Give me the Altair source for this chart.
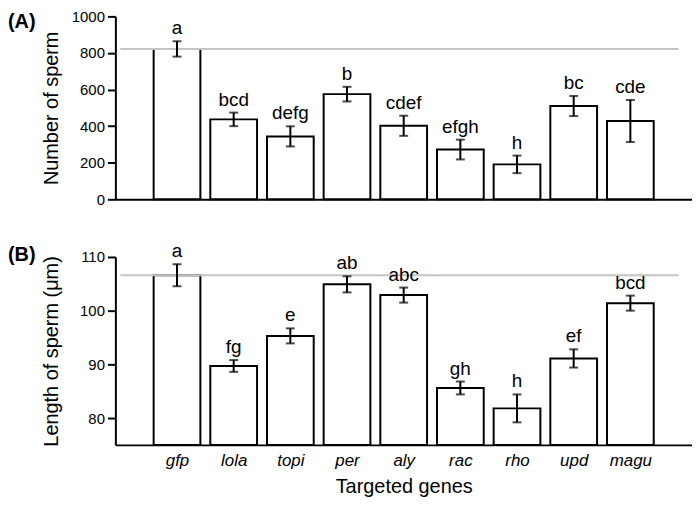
import altair as alt
import pandas as pd

FONT = "Liberation Sans"

genes = ["gfp", "lola", "topi", "per", "aly", "rac", "rho", "upd", "magu"]

count_mean = [822, 437, 344, 575, 402, 272, 191, 510, 428]
count_se = [42, 37, 55, 40, 55, 54, 48, 55, 115]
count_letters = ["a", "bcd", "defg", "b", "cdef", "efgh", "h", "bc", "cde"]

length_mean = [106.6, 89.7, 95.3, 104.9, 102.9, 85.6, 81.8, 91.1, 101.4]
length_se = [2.05, 1.1, 1.4, 1.5, 1.4, 1.2, 2.6, 1.7, 1.4]
length_letters = ["a", "fg", "e", "ab", "abc", "gh", "h", "ef", "bcd"]

count_ticks = [0, 200, 400, 600, 800, 1000]
length_ticks = [80, 90, 100, 110]

W = 580

label_expr = "[" + ",".join("'%s'" % g for g in genes) + "][datum.value - 1]"


def panel(mean, se, letters, ydomain, yticks, ytitle, tag, tag_y, show_x, height):
    df = pd.DataFrame({
        "pos": list(range(1, len(genes) + 1)),
        "gene": genes,
        "mean": mean,
        "lo": [m - s for m, s in zip(mean, se)],
        "hi": [m + s for m, s in zip(mean, se)],
        "letter": letters,
    })
    if show_x:
        xaxis = alt.Axis(values=list(range(1, len(genes) + 1)), labelExpr=label_expr,
                         ticks=False, grid=False, domainWidth=2, domainColor="black",
                         labelFont=FONT, labelFontSize=17, labelFontStyle="italic",
                         labelColor="black", labelPadding=8, labelFlush=False,
                         labelOverlap=False, title="Targeted genes", titleFont=FONT,
                         titleFontSize=20, titleFontWeight="normal", titleColor="black",
                         titlePadding=8)
    else:
        xaxis = alt.Axis(labels=False, ticks=False, grid=False, title=None,
                         domainWidth=2, domainColor="black")
    xs = alt.Scale(domain=[0, 10], nice=False, zero=False)
    ys = alt.Scale(domain=ydomain, nice=False, zero=False)
    yaxis = alt.Axis(values=yticks, format="d", grid=False, domainWidth=2, domainColor="black",
                     tickWidth=2, tickSize=8, tickColor="black", labelFont=FONT,
                     labelFontSize=15, labelColor="black", labelPadding=3,
                     labelOverlap=False, labelFlush=False,
                     title=ytitle, titleFont=FONT, titleFontSize=20,
                     titleFontWeight="normal", titleColor="black", titleX=-54)

    def X():
        return alt.X("pos:Q", scale=xs, axis=xaxis)

    def Y(field):
        return alt.Y(field, scale=ys, axis=yaxis)

    base = alt.Chart(df)
    bars = base.mark_bar(size=47, fill="white", stroke="black", strokeWidth=2).encode(
        x=X(), y=Y("mean:Q"), y2=alt.datum(ydomain[0]),
    )
    ref = alt.Chart(pd.DataFrame({"v": [mean[0]]})).mark_rule(
        color="#c4c4c4", strokeWidth=2).encode(
        x=alt.datum(0), x2=alt.datum(9.85), y=Y("v:Q"))
    err = base.mark_rule(color="black", strokeWidth=2).encode(
        x=X(), y=Y("lo:Q"), y2="hi:Q")
    cap_lo = base.mark_tick(orient="horizontal", size=9, thickness=2, color="black").encode(
        x=X(), y=Y("lo:Q"))
    cap_hi = base.mark_tick(orient="horizontal", size=9, thickness=2, color="black").encode(
        x=X(), y=Y("hi:Q"))
    txt = base.mark_text(baseline="bottom", dy=-3, fontSize=19, font=FONT, color="black").encode(
        x=X(), y=Y("hi:Q"), text="letter:N")
    tagm = alt.Chart(pd.DataFrame({"t": [tag]})).mark_text(
        align="left", baseline="middle", fontSize=20, fontWeight="bold", font=FONT,
        color="black").encode(x=alt.value(-108), y=alt.value(tag_y), text="t:N")
    return alt.layer(bars, ref, err, cap_lo, cap_hi, txt, tagm).properties(width=W, height=height)


pA = panel(count_mean, count_se, count_letters, [0, 1000], count_ticks,
           "Number of sperm", "(A)", 6, False, 184)
pB = panel(length_mean, length_se, length_letters, [75, 110], length_ticks,
           "Length of sperm (μm)", "(B)", -2, True, 189)

chart = alt.vconcat(pA, pB, spacing=35).properties(padding=0).configure_view(stroke=None)

chart.save("out.html", embed_options={"renderer": "svg", "actions": False})
